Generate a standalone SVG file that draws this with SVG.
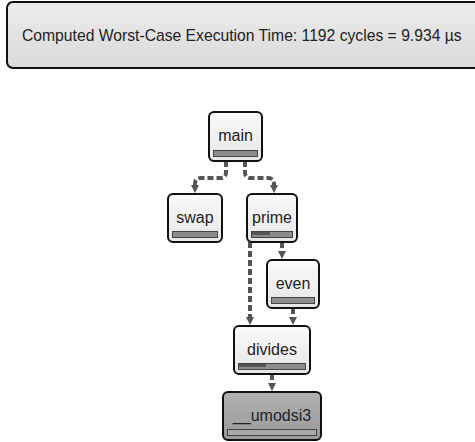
<svg xmlns="http://www.w3.org/2000/svg" width="475" height="442" viewBox="0 0 475 442">
<defs>
<linearGradient id="gNode" x1="0" y1="0" x2="0" y2="1">
<stop offset="0" stop-color="#fafafa"/><stop offset="1" stop-color="#e6e6e6"/>
</linearGradient>
<linearGradient id="gDark" x1="0" y1="0" x2="0" y2="1">
<stop offset="0" stop-color="#b0b0b0"/><stop offset="1" stop-color="#9a9a9a"/>
</linearGradient>
<linearGradient id="gTop" x1="0" y1="0" x2="0" y2="1">
<stop offset="0" stop-color="#ececec"/><stop offset="1" stop-color="#dadada"/>
</linearGradient>
<marker id="arr" viewBox="0 0 8 8" refX="0" refY="4" markerWidth="8" markerHeight="8" markerUnits="userSpaceOnUse" orient="auto">
<path d="M0,0 L8,4 L0,8 z" fill="#555"/>
</marker>
</defs>
<style>
.box{fill:url(#gNode);stroke:#111;stroke-width:2}
.dbox{fill:url(#gDark);stroke:#111;stroke-width:2}
.bar{fill:#8c8c8c;stroke:#444;stroke-width:1}
.lbar{fill:#a8a8a8;stroke:#444;stroke-width:1}
.dk{fill:#555}
.lbl{font-family:"Liberation Sans",Arial,sans-serif;font-size:16px;fill:#222;text-anchor:middle}
.con{fill:none;stroke:#555;stroke-width:4;stroke-dasharray:6 3;marker-end:url(#arr)}
</style>
<g id="wcet">
<rect x="7" y="2" width="480" height="66" rx="6" fill="url(#gTop)" stroke="#111" stroke-width="2"/>
<text x="22" y="41" font-family="&quot;Liberation Sans&quot;,Arial,sans-serif" font-size="15.7" fill="#222">Computed Worst-Case Execution Time: 1192 cycles = 9.934 µs</text>
</g>
<g id="connectors">
<path class="con" d="M226,161 V172 Q226,178 220,178 H201 Q195,178 195,184 V185"/>
<path class="con" d="M245,161 V172 Q245,178 251,178 H268 Q274,178 274,184 V185"/>
<path class="con" d="M250,242 V317"/>
<path class="con" d="M282,242 V251"/>
<path class="con" d="M293,308 V317"/>
<path class="con" d="M272,374 V383"/>
</g>
<g id="main">
<rect class="box" x="209" y="112" width="53" height="49" rx="5"/>
<text class="lbl" x="235.5" y="141">main</text>
<rect class="bar" x="213.5" y="150.5" width="44" height="6"/>
</g>
<g id="swap">
<rect class="box" x="168" y="194" width="54" height="48" rx="5"/>
<text class="lbl" x="195" y="223">swap</text>
<rect class="bar" x="172.5" y="231.5" width="45" height="6"/>
</g>
<g id="prime">
<rect class="box" x="247" y="194" width="50" height="48" rx="5"/>
<text class="lbl" x="272" y="223">prime</text>
<rect class="bar" x="251.5" y="231.5" width="41" height="6"/>
<rect class="dk" x="252" y="232" width="18" height="3"/>
</g>
<g id="even">
<rect class="box" x="267" y="260" width="52" height="48" rx="5"/>
<text class="lbl" x="293" y="289">even</text>
<rect class="bar" x="271.5" y="297.5" width="43" height="6"/>
</g>
<g id="divides">
<rect class="box" x="234" y="326" width="76" height="48" rx="5"/>
<text class="lbl" x="272" y="355">divides</text>
<rect class="bar" x="238.5" y="363.5" width="67" height="6"/>
<rect class="dk" x="239" y="364" width="27" height="3"/>
</g>
<g id="umodsi3">
<rect class="dbox" x="223" y="392" width="98" height="48" rx="5"/>
<text class="lbl" x="272" y="421">__umodsi3</text>
<rect class="lbar" x="227.5" y="429.5" width="89" height="6"/>
</g>
</svg>
